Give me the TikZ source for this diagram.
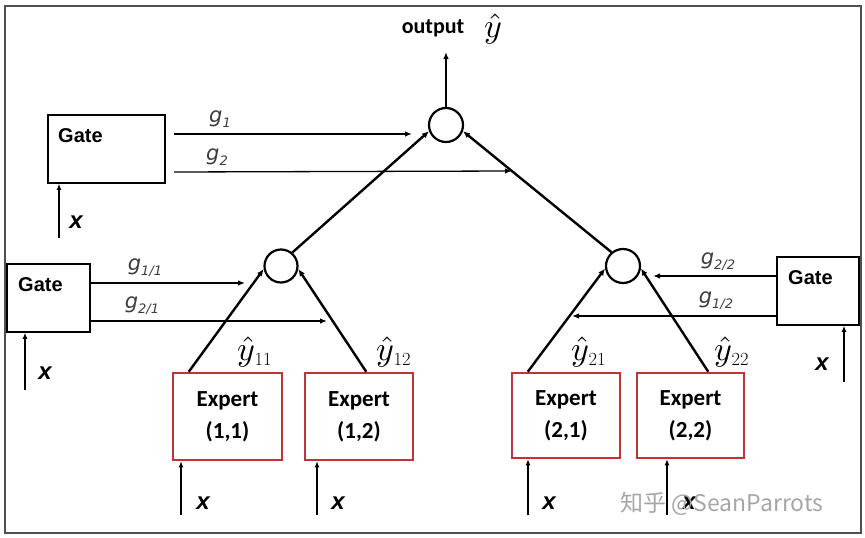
\documentclass[tikz,border=0pt]{standalone}
\usepackage{fontspec}
\usepackage{graphicx}
\newfontfamily\carl{Carlito}
\newfontfamily\arl{Liberation Sans}
\newfontfamily\dvs{DejaVu Sans}
\newfontfamily\cjkf{Noto Sans CJK SC}
\usetikzlibrary{arrows.meta}
\definecolor{expred}{RGB}{192,52,56}
\definecolor{framegray}{RGB}{80,80,80}
\definecolor{glabgray}{RGB}{60,60,60}
\newcommand\mygl[1]{g\raisebox{-0.22em}{\fontsize{13}{13}\selectfont #1}}
\newcommand\myyhat[1]{\scalebox{3.4}{$\hat{y}$}\kern-0.5pt\raisebox{-5pt}{\fontsize{18.5}{18.5}\selectfont #1}}
\begin{document}
\begin{tikzpicture}[x=1pt,y=-1pt,
  gatebox/.style={draw,line width=1.6pt,inner sep=0pt},
  gatetxt/.style={font=\arl\bfseries\fontsize{20}{20}\selectfont,inner sep=0pt},
  expbox/.style={draw=expred,line width=2.5pt,align=center,inner sep=0pt,
     font=\carl\bfseries\fontsize{23}{32}\selectfont},
  sumc/.style={circle,draw,line width=2.2pt,inner sep=0pt},
  garrow/.style={line width=1.3pt,-{Latex[length=7pt,width=5.5pt]}},
  tarrow/.style={line width=2.4pt,-{Latex[length=7pt,width=6pt]}},
  xarrow/.style={line width=1.3pt,-{Latex[length=6pt,width=5pt]}},
  glab/.style={font=\dvs\itshape\fontsize{21}{21}\selectfont,text=glabgray,inner sep=0pt},
  xlab/.style={font=\arl\bfseries\itshape\fontsize{24}{24}\selectfont,inner sep=0pt},
  ylab/.style={inner sep=0pt,anchor=base west}]
\useasboundingbox (0,0) rectangle (865,538);
\draw[line width=2pt,framegray] (5,6) rectangle (861,533);

% gates
\node[gatebox,minimum width=117pt,minimum height=68pt] (g0) at (106.5,149) {};
\node[gatetxt,anchor=west] (g0t) at (58,136) {Gate};
\node[gatebox,minimum width=83pt,minimum height=68pt] (gl) at (48.5,298) {};
\node[gatetxt,anchor=west] (glt) at (18,285) {Gate};
\node[gatebox,minimum width=82pt,minimum height=68pt] (gr) at (818,291) {};
\node[gatetxt,anchor=west] (grt) at (788,278) {Gate};

% sum circles
\node[sumc,minimum size=34pt] (tc) at (446,125) {};
\node[sumc,minimum size=33pt] (lc) at (281,266) {};
\node[sumc,minimum size=34pt] (rc) at (623,266) {};

% experts
\node[expbox,minimum width=109pt,minimum height=87pt] (e11) at (227.5,416.5) {Expert\\(1,1)};
\node[expbox,minimum width=108pt,minimum height=87pt] (e12) at (359,416.5) {Expert\\(1,2)};
\node[expbox,minimum width=108pt,minimum height=85pt] (e21) at (566,415.5) {Expert\\(2,1)};
\node[expbox,minimum width=107pt,minimum height=85pt] (e22) at (690.5,415.5) {Expert\\(2,2)};

% output
\coordinate (out) at (446,52);
\draw[garrow] (tc.north) -- (out);
\node[font=\carl\bfseries\fontsize{22}{22}\selectfont,inner sep=0pt] (outt) at (433,28) {output};
\node[ylab] (yt) at (484,37) {\scalebox{3.4}{$\hat{y}$}};

% tree connectors
\draw[tarrow] ([xshift=17pt]e11.north west) -- (lc.190);
\draw[tarrow] ([xshift=-48pt]e12.north east) -- (lc.-10);
\draw[tarrow] ([xshift=17pt]e21.north west) -- (rc.188);
\draw[tarrow] ([xshift=-37pt]e22.north east) -- (rc.-8);
\draw[tarrow] (lc.50) -- (tc.200);
\draw[tarrow] (rc.130) -- (tc.-20);

% y hats
\node[ylab] (y11) at (237,360) {\myyhat{11}};
\node[ylab] (y12) at (376,360) {\myyhat{12}};
\node[ylab] (y21) at (571,360) {\myyhat{21}};
\node[ylab] (y22) at (714,360) {\myyhat{22}};

% gate outputs
\coordinate (g1s) at (174,134); \coordinate (g1e) at (412,134);
\coordinate (g2s) at (174,172); \coordinate (g2e) at (512,171);
\draw[garrow] (g1s) -- (g1e);
\draw[garrow] (g2s) -- (g2e);
\node[glab] (g1t) at (220,119) {\mygl{1}};
\node[glab] (g2t) at (217,157) {\mygl{2}};

\coordinate (g11e) at (245,283); \coordinate (g21e) at (327,321);
\draw[garrow] (gl.east |- g11e) -- (g11e);
\draw[garrow] (gl.east |- g21e) -- (g21e);
\node[glab] (g11t) at (145,268) {\mygl{1/1}};
\node[glab] (g21t) at (142,306) {\mygl{2/1}};

\coordinate (g22e) at (653,276); \coordinate (g12e) at (572,316);
\draw[garrow] (gr.west |- g22e) -- (g22e);
\draw[garrow] (gr.west |- g12e) -- (g12e);
\node[glab] (g22t) at (718,262) {\mygl{2/2}};
\node[glab] (g12t) at (716,301) {\mygl{1/2}};

% x inputs
\coordinate (x0) at (59,238); \coordinate (xl) at (25,390); \coordinate (xr) at (844,382);
\draw[xarrow] (x0) -- (x0 |- g0.south);
\draw[xarrow] (xl) -- (xl |- gl.south);
\draw[xarrow] (xr) -- (xr |- gr.south);
\node[xlab] (x0t) at (76,222) {x};
\node[xlab] (xlt) at (45,373) {x};
\node[xlab] (xrt) at (822,364) {x};

\coordinate (x11) at (181,515); \coordinate (x12) at (317,515);
\coordinate (x21) at (528,515); \coordinate (x22) at (667,515);
\draw[xarrow] (x11) -- (x11 |- e11.south);
\draw[xarrow] (x12) -- (x12 |- e12.south);
\draw[xarrow] (x21) -- (x21 |- e21.south);
\draw[xarrow] (x22) -- (x22 |- e22.south);
\node[xlab] (x11t) at (203,503) {x};
\node[xlab] (x12t) at (338,503) {x};
\node[xlab] (x21t) at (549,503) {x};
\node[xlab] (x22t) at (689,503) {x};

% watermark
\node[font=\cjkf\fontsize{23}{23}\selectfont,text=black!35,inner sep=0pt] (wm) at (722,504) {知乎 @SeanParrots};
\end{tikzpicture}
\end{document}
